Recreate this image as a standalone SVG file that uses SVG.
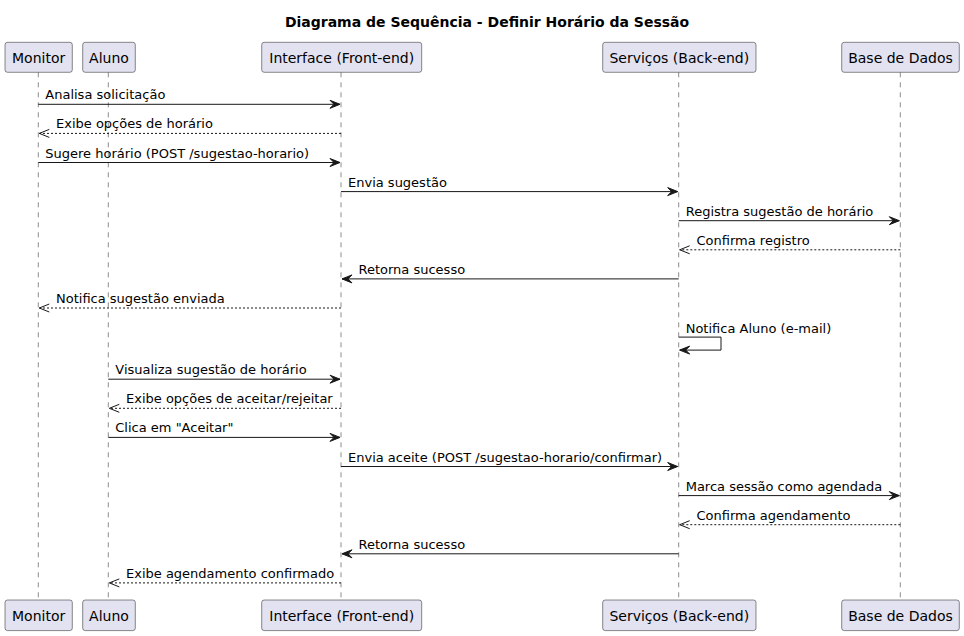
<svg xmlns="http://www.w3.org/2000/svg" width="964" height="636" viewBox="0 0 964 636">
<style>
.bg{fill:#FFFFFF}
.box{fill:#E2E2F0;stroke:#181818;stroke-width:0.5}
.pt{font-family:"DejaVu Sans",sans-serif;font-size:14px;fill:#000000;text-anchor:middle}
.life{stroke:#181818;stroke-width:0.5;stroke-dasharray:5,5;fill:none}
.msg{stroke:#181818;stroke-width:1;fill:none}
.sync{marker-end:url(#solid)}
.ret{stroke-dasharray:2,2;marker-end:url(#open)}
.mt{font-family:"DejaVu Sans",sans-serif;font-size:13px;fill:#000000}
.title{font-family:"DejaVu Sans",sans-serif;font-size:14px;font-weight:bold;fill:#000000;text-anchor:middle}
</style>
<defs>
<marker id="solid" markerUnits="userSpaceOnUse" markerWidth="12" markerHeight="10" refX="10" refY="4" orient="auto" overflow="visible">
<path d="M0,0 L10,4 L0,8 L4,4 Z" fill="#181818" stroke="#181818" stroke-width="1"/>
</marker>
<marker id="open" markerUnits="userSpaceOnUse" markerWidth="12" markerHeight="10" refX="10" refY="4" orient="auto" overflow="visible">
<path d="M0,0 L10,4 L0,8" fill="none" stroke="#181818" stroke-width="1"/>
</marker>
</defs>
<rect class="bg" x="0" y="0" width="964" height="636"/>
<text class="title" x="487" y="27">Diagrama de Sequência - Definir Horário da Sessão</text>

<g id="lifelines">
<line class="life" x1="38.3" y1="72.3" x2="38.3" y2="600"/>
<line class="life" x1="108.3" y1="72.3" x2="108.3" y2="600"/>
<line class="life" x1="341" y1="72.3" x2="341" y2="600"/>
<line class="life" x1="678.7" y1="72.3" x2="678.7" y2="600"/>
<line class="life" x1="900.3" y1="72.3" x2="900.3" y2="600"/>
</g>

<g id="monitor">
<rect class="box" x="5" y="42.3" width="67.3" height="30" rx="2.5"/>
<text class="pt" x="38.6" y="62.8">Monitor</text>
<rect class="box" x="5" y="600" width="67.3" height="30.6" rx="2.5"/>
<text class="pt" x="38.6" y="621.3">Monitor</text>
</g>
<g id="aluno">
<rect class="box" x="82.7" y="42.3" width="52.6" height="30" rx="2.5"/>
<text class="pt" x="109" y="62.8">Aluno</text>
<rect class="box" x="82.7" y="600" width="52.6" height="30.6" rx="2.5"/>
<text class="pt" x="109" y="621.3">Aluno</text>
</g>
<g id="interface">
<rect class="box" x="261.7" y="42.3" width="160" height="30" rx="2.5"/>
<text class="pt" x="341.7" y="62.8">Interface (Front-end)</text>
<rect class="box" x="261.7" y="600" width="160" height="30.6" rx="2.5"/>
<text class="pt" x="341.7" y="621.3">Interface (Front-end)</text>
</g>
<g id="servicos">
<rect class="box" x="602.7" y="42.3" width="153.3" height="30" rx="2.5"/>
<text class="pt" x="679.3" y="62.8">Serviços (Back-end)</text>
<rect class="box" x="602.7" y="600" width="153.3" height="30.6" rx="2.5"/>
<text class="pt" x="679.3" y="621.3">Serviços (Back-end)</text>
</g>
<g id="base">
<rect class="box" x="841.7" y="42.3" width="117.6" height="30" rx="2.5"/>
<text class="pt" x="900.5" y="62.8">Base de Dados</text>
<rect class="box" x="841.7" y="600" width="117.6" height="30.6" rx="2.5"/>
<text class="pt" x="900.5" y="621.3">Base de Dados</text>
</g>

<g id="connectors">
<line class="msg sync" x1="38.3" y1="104.3" x2="340" y2="104.3"/>
<text class="mt" x="45.3" y="99.3">Analisa solicitação</text>

<line class="msg ret" x1="341" y1="133.4" x2="39.3" y2="133.4"/>
<text class="mt" x="56" y="128.4">Exibe opções de horário</text>

<line class="msg sync" x1="38.3" y1="162.5" x2="340" y2="162.5"/>
<text class="mt" x="45.3" y="157.5">Sugere horário (POST /sugestao-horario)</text>

<line class="msg sync" x1="341" y1="191.6" x2="677.7" y2="191.6"/>
<text class="mt" x="348" y="186.6">Envia sugestão</text>

<line class="msg sync" x1="678.7" y1="220.7" x2="899.3" y2="220.7"/>
<text class="mt" x="685.7" y="215.7">Registra sugestão de horário</text>

<line class="msg ret" x1="900.3" y1="249.8" x2="679.7" y2="249.8"/>
<text class="mt" x="696.5" y="244.8">Confirma registro</text>

<line class="msg sync" x1="678.7" y1="278.9" x2="342" y2="278.9"/>
<text class="mt" x="358.5" y="273.9">Retorna sucesso</text>

<line class="msg ret" x1="341" y1="308" x2="39.3" y2="308"/>
<text class="mt" x="56" y="303">Notifica sugestão enviada</text>

<path class="msg sync" d="M678.7,337.1 H721 V350.1 H679.7"/>
<text class="mt" x="685.7" y="332.6">Notifica Aluno (e-mail)</text>

<line class="msg sync" x1="108.3" y1="379.2" x2="340" y2="379.2"/>
<text class="mt" x="115.3" y="374.2">Visualiza sugestão de horário</text>

<line class="msg ret" x1="341" y1="408.3" x2="109.3" y2="408.3"/>
<text class="mt" x="126" y="403.3">Exibe opções de aceitar/rejeitar</text>

<line class="msg sync" x1="108.3" y1="437.4" x2="340" y2="437.4"/>
<text class="mt" x="115.3" y="432.4">Clica em "Aceitar"</text>

<line class="msg sync" x1="341" y1="466.5" x2="677.7" y2="466.5"/>
<text class="mt" x="348" y="461.5">Envia aceite (POST /sugestao-horario/confirmar)</text>

<line class="msg sync" x1="678.7" y1="495.6" x2="899.3" y2="495.6"/>
<text class="mt" x="685.7" y="490.6">Marca sessão como agendada</text>

<line class="msg ret" x1="900.3" y1="524.7" x2="679.7" y2="524.7"/>
<text class="mt" x="696.5" y="519.7">Confirma agendamento</text>

<line class="msg sync" x1="678.7" y1="553.8" x2="342" y2="553.8"/>
<text class="mt" x="358.5" y="548.8">Retorna sucesso</text>

<line class="msg ret" x1="341" y1="582.9" x2="109.3" y2="582.9"/>
<text class="mt" x="126" y="577.9">Exibe agendamento confirmado</text>
</g>
</svg>
